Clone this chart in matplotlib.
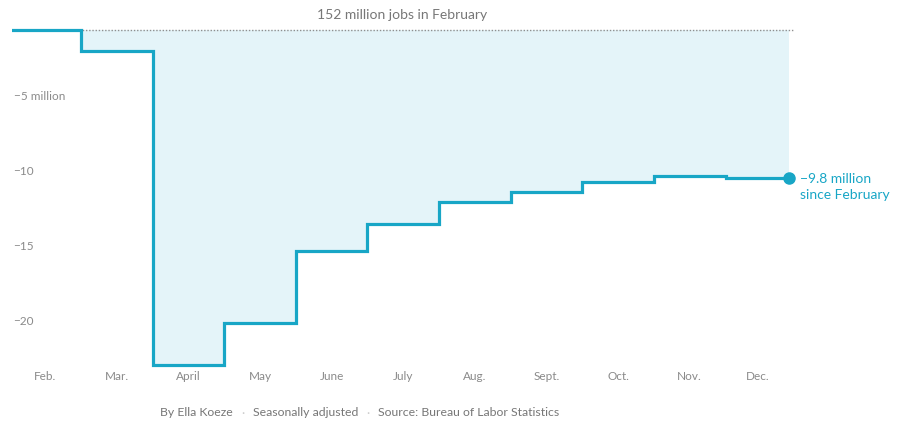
import matplotlib
matplotlib.use("Agg")
import matplotlib.pyplot as plt

months = ["Feb.", "Mar.", "April", "May", "June", "July", "Aug.", "Sept.", "Oct.", "Nov.", "Dec."]
change_millions = [0.0, -1.38, -22.3, -19.5, -14.7, -12.95, -11.45, -10.8, -10.1, -9.7, -9.85]
ytick_values = [-5, -10, -15, -20]
ytick_labels = ["\u22125 million", "\u221210", "\u221215", "\u221220"]
title_text = "152 million jobs in February"
end_label = "\u22129.8 million\nsince February"
footer_parts = ["By Ella Koeze", "Seasonally adjusted", "Source: Bureau of Labor Statistics"]

LINE = "#18a6c6"
FILL = "#e4f4f9"
GRAY = "#8a8a8a"
FONT = "Lato"
plt.rcParams["font.family"] = [FONT, "DejaVu Sans"]

W, H = 901, 422
fig = plt.figure(figsize=(W / 100, H / 100), dpi=100)
left_px, right_px, top_px, bot_px = 12, 795, 25, 370
ax = fig.add_axes([left_px / W, 1 - bot_px / H, (right_px - left_px) / W, (bot_px - top_px) / H])

last_frac = 0.89
edges = list(range(len(months))) + [len(months) - 1 + last_frac]
vals = change_millions + [change_millions[-1]]

ax.fill_between(edges, vals, 0, step="post", color=FILL, linewidth=0, zorder=1)
ax.step(edges, vals, where="post", color=LINE, linewidth=2.3, zorder=3, solid_joinstyle="miter")
ax.plot([edges[-1]], [vals[-1]], "o", color=LINE, markersize=8, zorder=4)

ax.set_xlim(0.036, 10.97)
ax.set_ylim(-(bot_px - 30) / 15, (30 - top_px) / 15)
ax.axhline(0, color="#8f8f8f", linestyle=(0, (1, 1.3)), linewidth=1.0, zorder=2)

for s in ax.spines.values():
    s.set_visible(False)
ax.set_xticks([])
ax.set_yticks([])

for v, lab in zip(ytick_values, ytick_labels):
    ax.text(0.002, v + 0.2, lab, transform=ax.get_yaxis_transform(), ha="left", va="bottom",
            color=GRAY, fontsize=8.5, zorder=5)

month_y = -(377 - bot_px) / (bot_px - top_px)
for i, m in enumerate(months):
    xc = i + 0.5 if i < len(months) - 1 else i + last_frac / 2
    ax.text(xc, month_y, m, transform=ax.get_xaxis_transform(), ha="center", va="center",
            color=GRAY, fontsize=8.5)

fig.text(402 / W, 1 - 15 / H, title_text, ha="center", va="center", color="#777777", fontsize=10)

ax.annotate(end_label, (edges[-1], vals[-1]), xytext=(8, 3.5), textcoords="offset points",
            ha="left", va="top", color=LINE, fontsize=10, linespacing=1.4,
            annotation_clip=False)

prev = fig.text(160 / W, 1 - 413 / H, footer_parts[0], ha="left", va="center",
                color="#777777", fontsize=8.8)
for part in footer_parts[1:]:
    dot = ax.annotate("\u00b7", xy=(1, 0.5), xycoords=prev, xytext=(6, 0),
                      textcoords="offset points", ha="left", va="center",
                      color="#cccccc", fontsize=8.8, annotation_clip=False)
    prev = ax.annotate(part, xy=(1, 0.5), xycoords=dot, xytext=(6, 0),
                       textcoords="offset points", ha="left", va="center",
                       color="#777777", fontsize=8.8, annotation_clip=False)

fig.savefig("out.png", dpi=100)
